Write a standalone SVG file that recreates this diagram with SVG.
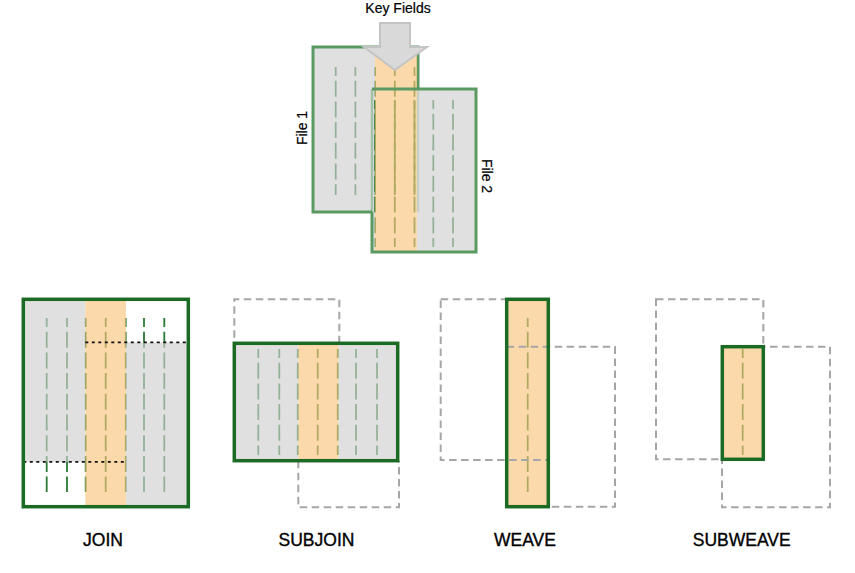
<svg xmlns="http://www.w3.org/2000/svg" width="855" height="573" viewBox="0 0 855 573">
<style>
  .col{stroke:#2a7a36;stroke-width:1.8;stroke-dasharray:16 4.7;stroke-dashoffset:7;fill:none}
  .grey{fill:#d0d0d0;fill-opacity:0.65}
  .orange{fill:#fbc57d;fill-opacity:0.65}
  .topEdge{fill:none;stroke:#5a9a62;stroke-width:3}
  .solid{fill:none;stroke:#1b6b25;stroke-width:3.5}
  .ghost{fill:none;stroke:#a6a6a6;stroke-width:2;stroke-dasharray:7.5 4.5}
  .dots{stroke:#111;stroke-width:1.7;stroke-dasharray:3 3.5;fill:none}
  .lbl{font-family:"Liberation Sans",Arial,sans-serif;font-size:17.5px;fill:#000;stroke:#000;stroke-width:0.35;text-anchor:middle}
  .small{font-family:"Liberation Sans",Arial,sans-serif;font-size:14px;fill:#000;stroke:#000;stroke-width:0.2;text-anchor:middle}
</style>
<rect width="855" height="573" fill="#ffffff"/>

<!-- Top: File 1 and File 2 -->
<g id="file1">
  <path class="col" d="M335.7,67V195M355.4,67V195M375.1,67V195M394.8,67V195M414.5,67V195"/>
  <rect class="grey" x="313" y="47" width="62" height="165"/>
  <path class="topEdge" d="M372,212H313V47H418V89"/>
  <path d="M418,89V212" stroke="#5a9a62" stroke-width="2.5" stroke-opacity="0.45" fill="none"/>
  <text class="small" transform="translate(306.5,128) rotate(-90)">File 1</text>
</g>
<g id="file2">
  <path class="col" d="M375.1,100V247M394.8,100V247M414.5,100V247M433.3,100V247M453,100V247"/>
  <rect class="grey" x="417" y="89" width="59" height="163"/>
  <rect class="grey" x="372" y="212" width="3" height="40"/>
  <rect class="orange" x="375" y="47" width="42" height="205"/>
  <path d="M372,89V212" stroke="#5a9a62" stroke-width="2.5" stroke-opacity="0.45" fill="none"/>
  <path class="topEdge" d="M372,212V252H476V89H372"/>
  <text class="small" transform="translate(482,176) rotate(90)">File 2</text>
</g>
<g id="key-fields">
  <polygon points="380,23 410,23 410,47 427,47 395,70 364,47 380,47" fill="#d9d9d9" stroke="#c4c4c4" stroke-width="2"/>
  <text class="small" x="398" y="13">Key Fields</text>
</g>

<!-- JOIN -->
<g id="join">
  <path class="col" d="M46.7,318V492M67,318V492M85.7,318V492M105.7,318V492M125.7,318V492M144,318V492M164.3,318V492"/>
  <rect class="grey" x="23.3" y="299.3" width="62" height="162.5"/>
  <rect class="grey" x="126" y="342.3" width="62.3" height="164.4"/>
  <rect class="orange" x="85.3" y="299.3" width="40.7" height="207.4"/>
  <path class="dots" d="M85.3,342.3H188.3M23.3,461.8H126"/>
  <rect class="solid" x="23.3" y="299.3" width="165" height="207.4"/>
  <text class="lbl" x="103" y="546">JOIN</text>
</g>

<!-- SUBJOIN -->
<g id="subjoin">
  <path class="ghost" d="M339.3,343.3V299.3H234.3V343.3"/>
  <path class="ghost" d="M298.3,460.7V507.3H399V460.7"/>
  <path class="col" d="M258.3,349V455M279.3,349V455M297.7,349V455M317.7,349V455M337.7,349V455M356,349V455M377,349V455"/>
  <rect class="grey" x="234.3" y="343.3" width="64" height="117.4"/>
  <rect class="grey" x="338.3" y="343.3" width="59.4" height="117.4"/>
  <rect class="orange" x="298.3" y="343.3" width="40" height="117.4"/>
  <rect class="solid" x="234.3" y="343.3" width="163.4" height="117.4"/>
  <text class="lbl" x="316.5" y="546">SUBJOIN</text>
</g>

<!-- WEAVE -->
<g id="weave">
  <path class="col" d="M527.7,318V492"/>
  <rect class="orange" x="506.7" y="299.3" width="41.6" height="207.4"/>
  <rect class="ghost" x="440.7" y="299.3" width="107.6" height="160.7"/>
  <rect class="ghost" x="506.7" y="346.7" width="108.3" height="160"/>
  <rect class="solid" x="506.7" y="299.3" width="41.6" height="207.4"/>
  <text class="lbl" x="525" y="546">WEAVE</text>
</g>

<!-- SUBWEAVE -->
<g id="subweave">
  <rect class="ghost" x="656" y="299.3" width="107.3" height="160"/>
  <rect class="ghost" x="722" y="346.7" width="108" height="160.6"/>
  <rect x="722.3" y="346.7" width="41" height="112.6" fill="#ffffff"/>
  <path class="col" d="M742.7,349V455"/>
  <rect class="orange" x="722.3" y="346.7" width="41" height="112.6"/>
  <rect class="solid" x="722.3" y="346.7" width="41" height="112.6"/>
  <text class="lbl" x="741.7" y="546">SUBWEAVE</text>
</g>

<g id="connectors"/>
</svg>
